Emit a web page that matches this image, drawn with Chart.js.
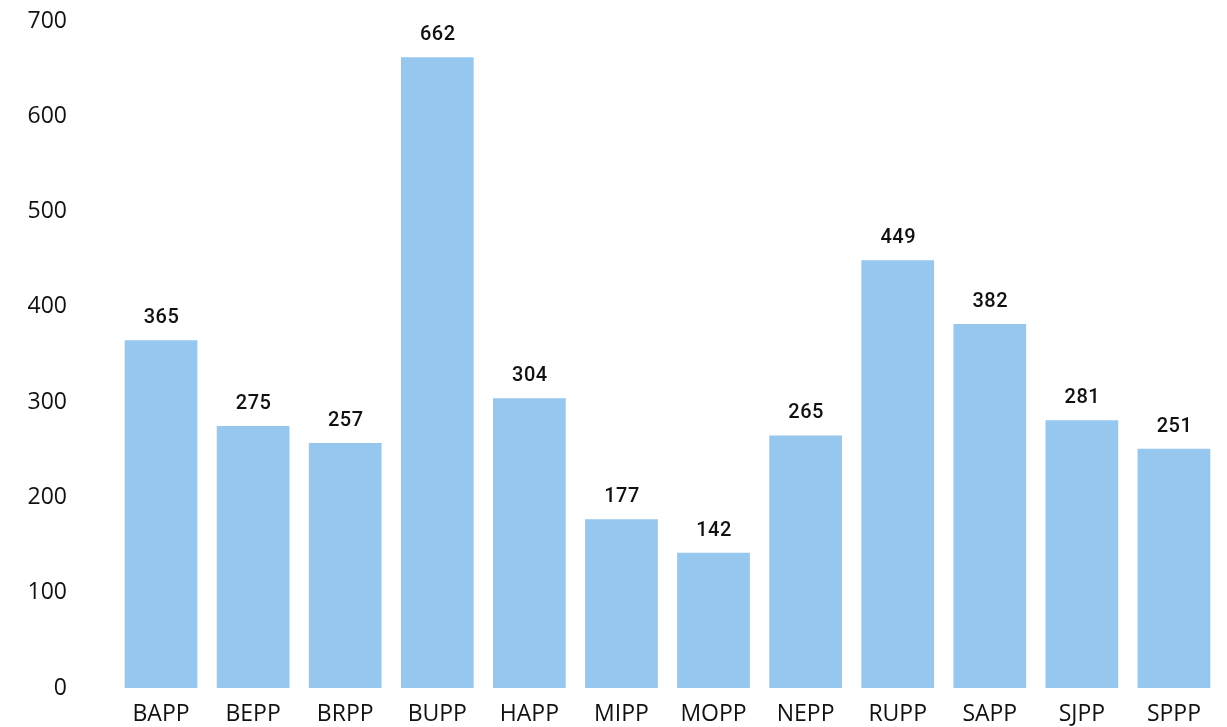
<!DOCTYPE html>
<html>
<head>
<meta charset="utf-8">
<script src="https://cdn.jsdelivr.net/npm/chart.js@4"></script>
<style>
  html, body { margin: 0; padding: 0; background: #fff; }
  #wrap { width: 1227px; height: 727px; }
</style>
</head>
<body>
<div id="wrap"><canvas id="barres"></canvas></div>
<script>
// donnees
const categories = ['BAPP', 'BEPP', 'BRPP', 'BUPP', 'HAPP', 'MIPP', 'MOPP', 'NEPP', 'RUPP', 'SAPP', 'SJPP', 'SPPP']
const valeurs = [365, 275, 257, 662, 304, 177, 142, 265, 449, 382, 281, 251]
const yTicks = [0, 100, 200, 300, 400, 500, 600, 700]

// etiquettes au-dessus des barres
const etiquettes = {
    id: 'etiquettes',
    afterDatasetsDraw(chart) {
        const ctx = chart.ctx
        const meta = chart.getDatasetMeta(0)
        ctx.save()
        ctx.font = '500 20px Roboto'
        ctx.letterSpacing = '0.5px'
        ctx.fillStyle = '#111'
        ctx.textAlign = 'center'
        ctx.textBaseline = 'alphabetic'
        meta.data.forEach((bar, i) => {
            ctx.fillText(valeurs[i], bar.x + 0.5, bar.y - 17)
        })
        ctx.restore()
    }
}

new Chart(
    document.getElementById('barres'),
    {
        type: 'bar',
        data: {
            labels: categories,
            datasets: [
                {
                    data: valeurs,
                    backgroundColor: '#95C7EF',
                    borderWidth: 0,
                    categoryPercentage: 1,
                    barPercentage: 0.79
                }
            ]
        },
        options: {
            responsive: true,
            maintainAspectRatio: false,
            animation: false,
            layout: {
                padding: { top: 21, right: 7, left: 0, bottom: 0 }
            },
            scales: {
                y: {
                    min: 0,
                    max: 700,
                    afterBuildTicks: scale => { scale.ticks = yTicks.map(v => ({ value: v })) },
                    afterFit: scale => { scale.width = 115 },
                    // pas de grille, mais tickLength sert d'espace entre les labels et les barres
                    grid: { display: false, tickLength: 48 },
                    border: { display: false },
                    ticks: {
                        color: '#111',
                        font: { family: 'Open Sans', size: 23 },
                        padding: 0
                    }
                },
                x: {
                    afterFit: scale => { scale.height = 39 },
                    grid: { display: false, tickLength: 8 },
                    border: { display: false },
                    ticks: {
                        color: '#111',
                        font: { family: 'Open Sans', size: 23 },
                        padding: 5,
                        maxRotation: 0,
                        autoSkip: false
                    }
                }
            },
            plugins: {
                legend: { display: false },
                tooltip: { enabled: false }
            }
        },
        plugins: [etiquettes]
    }
);
</script>
</body>
</html>
